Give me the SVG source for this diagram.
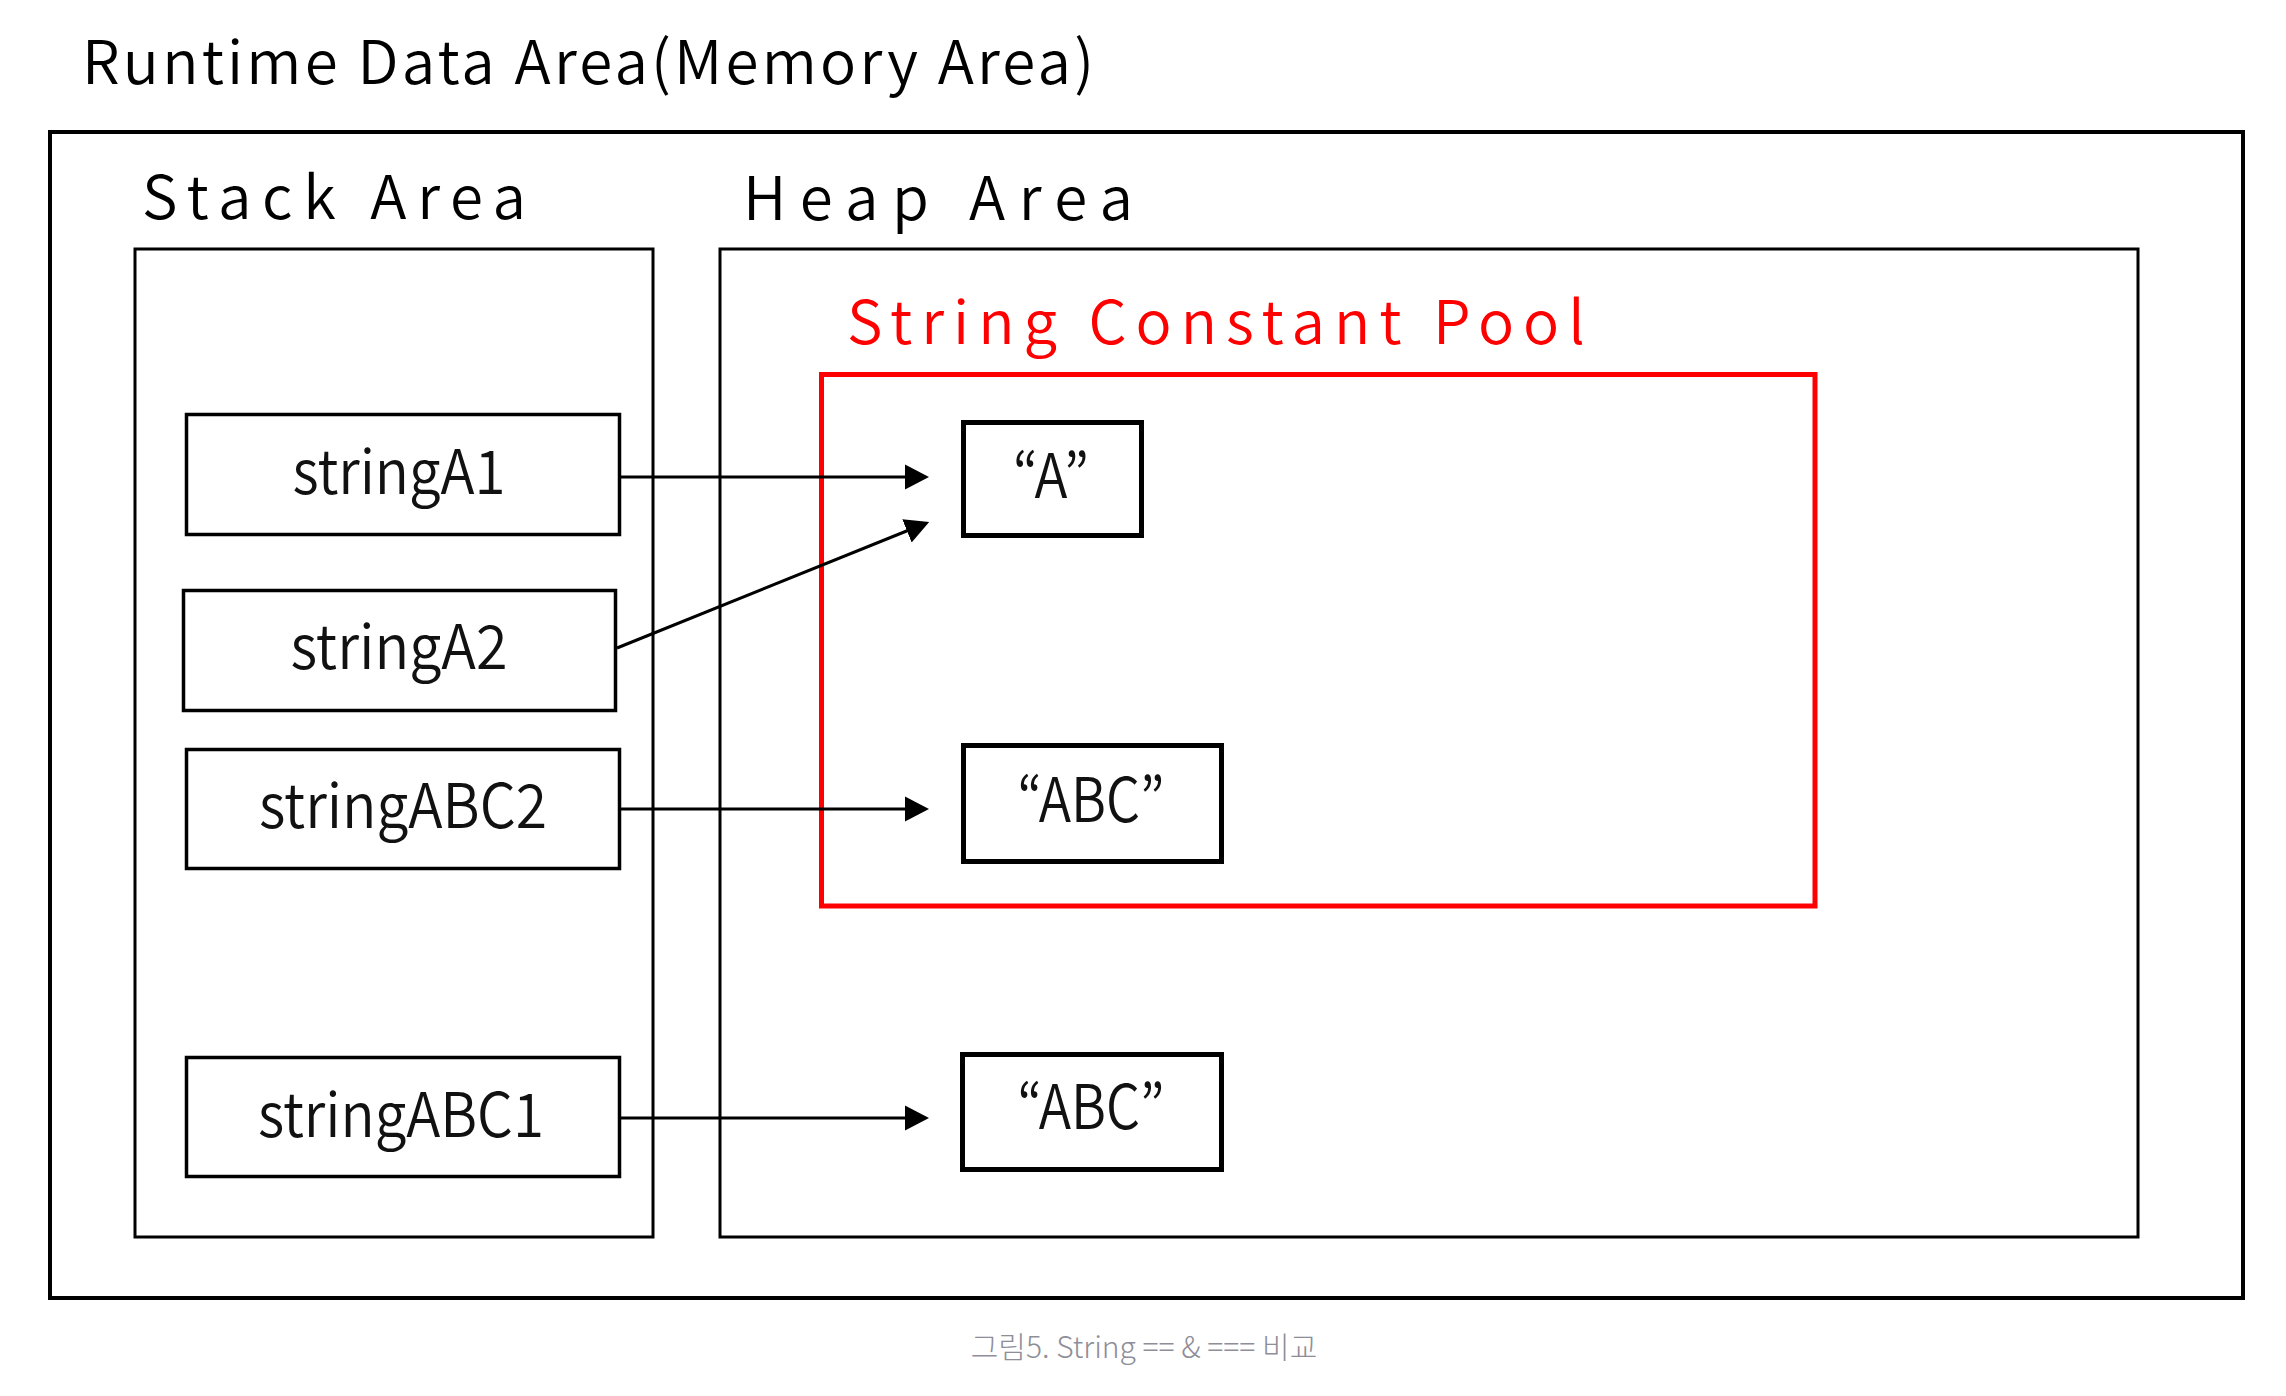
<svg xmlns="http://www.w3.org/2000/svg" width="2286" height="1396" viewBox="0 0 2286 1396">
  <style>
    .area { fill: none; stroke: #000; stroke-width: 3; }
    .outer { fill: none; stroke: #000; stroke-width: 4; }
    .pool { fill: none; stroke: #ff0000; stroke-width: 5; }
    .var { fill: #fff; stroke: #000; stroke-width: 3.5; }
    .val { fill: #fff; stroke: #000; stroke-width: 5; }
    .title { font-family: "Noto Sans CJK KR", "Noto Sans", "DejaVu Sans", sans-serif; font-size: 60px; font-weight: 350; fill: #000; }
    .red { fill: #ff0000; }
    .label { font-family: "Noto Sans CJK KR", "Noto Sans", "DejaVu Sans", sans-serif; font-size: 61px; font-weight: 350; fill: #111; text-anchor: middle; }
    .caption { font-family: "Noto Sans CJK KR", "Noto Sans", sans-serif; font-size: 30px; font-weight: 300; fill: #8e8e98; text-anchor: middle; }
    .conn { fill: none; stroke: #000; stroke-width: 3; marker-end: url(#arrow); }
  </style>
  <defs>
    <marker id="arrow" markerUnits="userSpaceOnUse" markerWidth="25" markerHeight="26" refX="13" refY="12.5" orient="auto" viewBox="0 0 25 25">
      <path d="M0,0 L24,12.5 L0,25 Z" fill="#000"/>
    </marker>
  </defs>
  <rect width="2286" height="1396" fill="#fff"/>

  <g id="runtime-data-area">
    <text class="title" x="82" y="84" textLength="1012" lengthAdjust="spacing">Runtime Data Area(Memory Area)</text>
    <rect class="outer" x="50" y="132" width="2193" height="1166"/>
  </g>

  <g id="stack-area">
    <text class="title" x="142" y="219" textLength="384" lengthAdjust="spacing">Stack Area</text>
    <rect class="area" x="135" y="249" width="518" height="988"/>
  </g>

  <g id="heap-area">
    <text class="title" x="743" y="220" textLength="390" lengthAdjust="spacing">Heap Area</text>
    <rect class="area" x="720" y="249" width="1418" height="988"/>
  </g>

  <g id="string-constant-pool">
    <text class="title red" x="847" y="344" textLength="738" lengthAdjust="spacing">String Constant Pool</text>
    <rect class="pool" x="821.5" y="374.5" width="993.5" height="531.5"/>
  </g>

  <g id="stringA1">
    <rect class="var" x="186.5" y="414.5" width="433" height="120"/>
    <text class="label" x="399" y="494" textLength="213" lengthAdjust="spacingAndGlyphs">stringA1</text>
  </g>
  <g id="stringA2">
    <rect class="var" x="183.5" y="590.5" width="432" height="120"/>
    <text class="label" x="399" y="669" textLength="217" lengthAdjust="spacingAndGlyphs">stringA2</text>
  </g>
  <g id="stringABC2">
    <rect class="var" x="186.5" y="749.5" width="433" height="119"/>
    <text class="label" x="403" y="828" textLength="288" lengthAdjust="spacingAndGlyphs">stringABC2</text>
  </g>
  <g id="stringABC1">
    <rect class="var" x="186.5" y="1057.5" width="433" height="119"/>
    <text class="label" x="401" y="1137" textLength="286" lengthAdjust="spacingAndGlyphs">stringABC1</text>
  </g>

  <g id="value-A">
    <rect class="val" x="963.5" y="422.5" width="178" height="113"/>
    <text class="label" x="1051" y="498" textLength="76" lengthAdjust="spacingAndGlyphs">“A”</text>
  </g>
  <g id="value-ABC-pool">
    <rect class="val" x="963.5" y="745.5" width="258" height="116"/>
    <text class="label" x="1091" y="822" textLength="147" lengthAdjust="spacingAndGlyphs">“ABC”</text>
  </g>
  <g id="value-ABC-heap">
    <rect class="val" x="962.5" y="1054.5" width="259" height="115"/>
    <text class="label" x="1091" y="1129" textLength="147" lengthAdjust="spacingAndGlyphs">“ABC”</text>
  </g>

  <g id="connectors">
    <line class="conn" x1="621" y1="477" x2="918" y2="477"/>
    <line class="conn" x1="617" y1="648" x2="919" y2="526"/>
    <line class="conn" x1="621" y1="809" x2="918" y2="809"/>
    <line class="conn" x1="621" y1="1118" x2="918" y2="1118"/>
  </g>

  <text class="caption" x="1144" y="1358">그림5. String == &amp; === 비교</text>
</svg>
